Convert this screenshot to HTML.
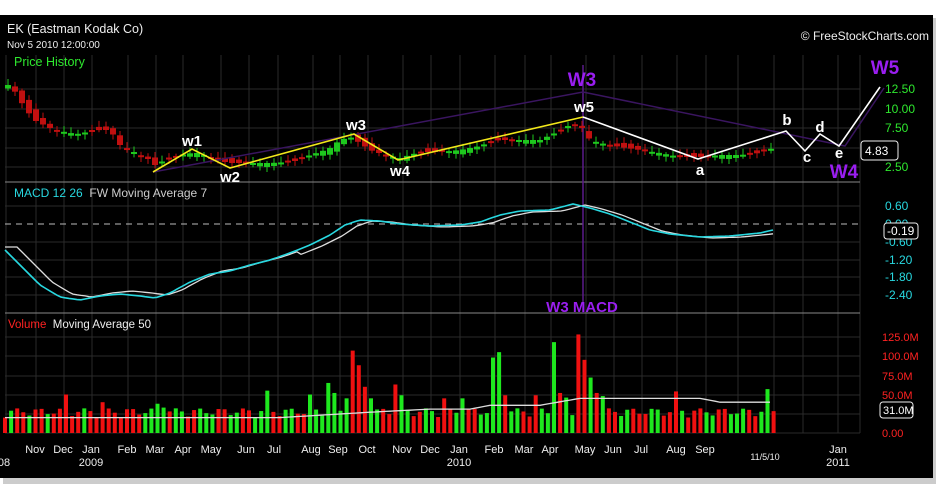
<!DOCTYPE html>
<html><head><meta charset="utf-8"><style>
html,body{margin:0;padding:0;background:#fff;width:948px;height:488px;overflow:hidden}
svg{display:block;font-family:"Liberation Sans",sans-serif}
</style></head><body>
<svg id="s" width="948" height="488" xmlns="http://www.w3.org/2000/svg">
<rect x="3" y="18" width="933" height="466" fill="#999" opacity="0.5"/>
<rect x="0" y="15" width="933" height="463" fill="#000"/>
<g id="grid" stroke="#2a2a2a" stroke-width="1"></g>
<line x1="5" y1="182" x2="860" y2="182" stroke="#888"/>
<line x1="5" y1="313" x2="860" y2="313" stroke="#888"/>
<line x1="5" y1="224" x2="860" y2="224" stroke="#bbb" stroke-dasharray="6,5"/>
<line x1="583" y1="65" x2="583" y2="313" stroke="#5a1a8a" stroke-width="1.5"/>
<g id="candles"></g>
<g id="vol"></g>
<polyline id="ma" fill="none" stroke="#ddd" stroke-width="1.3"/>
<polyline id="sig" fill="none" stroke="#ddd" stroke-width="1.3"/>
<polyline id="macd" fill="none" stroke="#28d8e0" stroke-width="1.6"/>
<polyline points="153,172 583,92 845,146 884,88" fill="none" stroke="#3a1560" stroke-width="1.5"/>
<polyline points="153,172 192,149 230,168 354,134 398,160 583,117" fill="none" stroke="#f2e81a" stroke-width="1.6"/>
<polyline points="583,117 698,159 786,131 805,151 820,134 839,146 880,87" fill="none" stroke="#fff" stroke-width="1.6"/>
<g fill="#fff" font-weight="bold" font-size="15" text-anchor="middle">
<text x="192" y="146">w1</text><text x="230" y="182">w2</text><text x="356" y="130">w3</text>
<text x="400" y="176">w4</text><text x="584" y="112">w5</text><text x="700" y="175">a</text>
<text x="787" y="125">b</text><text x="807" y="162">c</text><text x="820" y="132">d</text><text x="839" y="158">e</text>
</g>
<g fill="#9a1ef0" font-weight="bold" text-anchor="middle">
<text x="582" y="86" font-size="19">W3</text><text x="885" y="74" font-size="19">W5</text>
<text x="844" y="178" font-size="19">W4</text><text x="582" y="312" font-size="15">W3 MACD</text>
</g>
<text x="7" y="33" fill="#eee" font-size="12.5">EK (Eastman Kodak Co)</text>
<text x="7" y="48" fill="#eee" font-size="10">Nov 5 2010 12:00:00</text>
<text x="14" y="66" fill="#2ee82e" font-size="12.5">Price History</text>
<text x="14" y="197" fill="#28d8e0" font-size="12">MACD 12 26 <tspan fill="#ccc">&#160;FW Moving Average 7</tspan></text>
<text x="8" y="328" fill="#f22" font-size="11.5">Volume <tspan fill="#eee">&#160;Moving Average 50</tspan></text>
<text x="929" y="40" fill="#eee" font-size="12" text-anchor="end">© FreeStockCharts.com</text>
<g font-size="12" fill="#2ee82e"><text x="885" y="93">12.50</text><text x="885" y="113">10.00</text><text x="885" y="132">7.50</text><text x="885" y="171">2.50</text></g>
<rect x="861" y="141" width="37" height="19" rx="3" fill="#000" stroke="#eee"/><text x="865" y="155" fill="#fff" font-size="12">4.83</text>
<g font-size="12" fill="#28d8e0"><text x="885" y="210">0.60</text><text x="885" y="228">0.00</text><text x="885" y="246">-0.60</text><text x="885" y="264">-1.20</text><text x="885" y="281">-1.80</text><text x="885" y="299">-2.40</text></g>
<rect x="884" y="223" width="34" height="16" rx="3" fill="#000" stroke="#eee"/><text x="887" y="235" fill="#fff" font-size="12">-0.19</text>
<g font-size="11" fill="#f22"><text x="882" y="341">125.0M</text><text x="882" y="360">100.0M</text><text x="882" y="380">75.0M</text><text x="882" y="399">50.0M</text><text x="882" y="437">0.00</text></g>
<rect x="880" y="402" width="33" height="16" rx="3" fill="#000" stroke="#eee"/><text x="883" y="414" fill="#fff" font-size="11">31.0M</text>
<g fill="#eee" font-size="11" text-anchor="middle" id="months"></g>
<g fill="#eee" font-size="11" text-anchor="middle">
<text x="4" y="466">08</text><text x="91" y="466">2009</text><text x="459" y="466">2010</text><text x="838" y="466">2011</text>
<text x="765" y="460" font-size="9">11/5/10</text></g>
</svg>
<script>
(function(){
var NS="http://www.w3.org/2000/svg";
function el(p,t,a,txt){var e=document.createElementNS(NS,t);for(var k in a)e.setAttribute(k,a[k]);if(txt)e.textContent=txt;document.getElementById(p).appendChild(e);return e;}
var gx=[6,36,64,92,128,156,183,221,249,278,313,340,368,403,431,460,495,525,551,586,614,642,677,706,738,774,803,838,860];
gx.forEach(function(x){el("grid","line",{x1:x,y1:55,x2:x,y2:433});});
[89,109,128,148,167,206,242,260,277,295,337,356,376,395,414,433].forEach(function(y){el("grid","line",{x1:5,y1:y,x2:860,y2:y});});
var m=[["Nov",35],["Dec",63],["Jan",91],["Feb",127],["Mar",155],["Apr",183],["May",211],["Jun",246],["Jul",274],["Aug",311],["Sep",338],["Oct",367],["Nov",402],["Dec",430],["Jan",459],["Feb",494],["Mar",524],["Apr",550],["May",585],["Jun",613],["Jul",641],["Aug",676],["Sep",705],["Jan",838]];
m.forEach(function(a){el("months","text",{x:a[1],y:453},a[0]);});
function interp(pts,x){for(var i=0;i<pts.length-1;i++){if(x>=pts[i][0]&&x<=pts[i+1][0]){var t=(x-pts[i][0])/(pts[i+1][0]-pts[i][0]);return pts[i][1]+t*(pts[i+1][1]-pts[i][1]);}}return x<pts[0][0]?pts[0][1]:pts[pts.length-1][1];}
var pp=[[8,85],[14,90],[20,100],[25,108],[34,120],[40,123],[50,128],[60,131],[70,133],[80,134],[90,131],[100,130],[110,130],[120,145],[130,150],[140,155],[150,160],[155,165],[165,160],[180,155],[192,153],[200,153],[215,160],[230,163],[250,163],[270,163],[290,162],[300,160],[310,155],[320,152],[330,148],[340,140],[350,137],[360,143],[370,150],[385,155],[400,158],[420,152],[440,152],[460,150],[480,146],[490,142],[500,140],[520,140],[540,140],[555,133],[570,125],[580,125],[590,140],[600,143],[620,147],[640,150],[660,153],[680,157],[700,157],[720,155],[740,155],[760,153],[773,148]];
var prev=pp[0][1];
for(var x=8;x<=773;x+=7){var c=interp(pp,x);var o=prev+(Math.sin(x*1.7)*4);var up=c<o;var col=up?"#1ec81e":"#c01010";var tp=Math.min(o,c),hh=Math.max(2,Math.abs(o-c));
el("candles","line",{x1:x,y1:tp-2-Math.abs(Math.sin(x))*4,x2:x,y2:tp+hh+2+Math.abs(Math.cos(x))*3,stroke:col});
el("candles","rect",{x:x-3,y:tp,width:6,height:hh,fill:col});prev=c;}
var mp=[[5,250],[20,265],[40,285],[60,297],[80,300],[100,296],[120,294],[140,296],[155,298],[170,293],[190,282],[210,274],[230,271],[250,265],[270,260],[290,253],[310,245],[330,235],[345,225],[360,220],[380,221],[400,224],[430,226],[460,225],[480,222],[500,215],[520,211],[550,210],[573,204],[590,208],[610,214],[630,222],[650,230],[670,234],[700,237],[730,236],[760,233],[773,230]];
var a=[],b=[];for(var x=5;x<=773;x+=4){a.push(x+","+interp(mp,x).toFixed(1));b.push(x+","+(interp(mp,x-12)+(x<300?-3:1)).toFixed(1));}
document.getElementById("macd").setAttribute("points",a.join(" "));document.getElementById("sig").setAttribute("points",b.join(" "));
var sp={65:[50,0],100:[40,0],119:[20,0],155:[38,1],162:[33,1],266:[55,1],312:[50,1],330:[65,1],337:[52,1],344:[45,1],352:[107,0],359:[88,0],366:[60,0],372:[45,1],393:[63,0],400:[49,1],445:[45,0],464:[45,1],491:[98,1],497:[105,1],503:[49,0],535:[49,0],555:[118,1],561:[52,0],567:[46,1],579:[128,0],586:[95,0],592:[72,1],598:[52,0],604:[48,1],679:[54,0],770:[57,1]};
var i=0;for(var x=5;x<=775;x+=6.1){var v=20+Math.abs(Math.sin(i*2.3))*12,g=Math.sin(i*1.37+0.5)>0;if(x<130)g=Math.sin(i*2.1)>0.6;var k=Object.keys(sp);for(var j=0;j<k.length;j++){if(Math.abs(k[j]-x)<3.1){v=sp[k[j]][0];g=sp[k[j]][1]==1;}}
var h=v*0.77;el("vol","rect",{x:x-2,y:433-h,width:4,height:h,fill:g?"#1ee81e":"#f01010"});i++;}
var mav=[[5,20],[280,20],[370,27],[430,31],[470,31],[490,36],[540,36],[580,45],[700,45],[720,40],[773,40]];
var q=[];for(var x=5;x<=773;x+=5)q.push(x+","+(433-interp(mav,x)*0.77).toFixed(1));document.getElementById("ma").setAttribute("points",q.join(" "));
})();
</script>
</body></html>
